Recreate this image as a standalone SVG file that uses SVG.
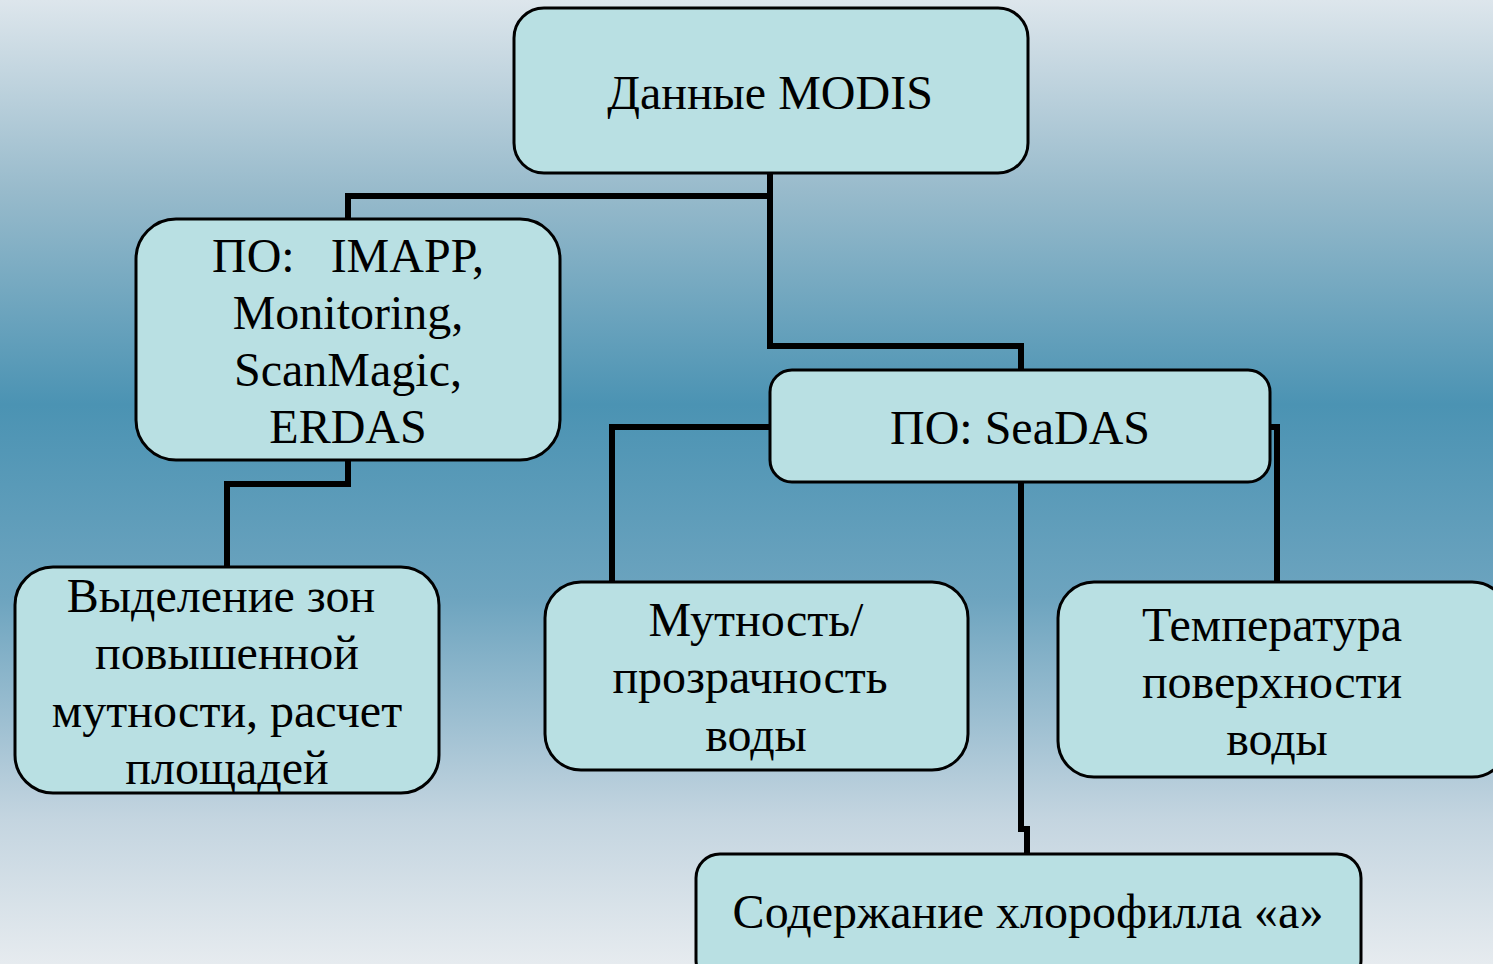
<svg xmlns="http://www.w3.org/2000/svg" width="1493" height="964" viewBox="0 0 1493 964">
<defs>
<linearGradient id="bg" x1="0" y1="0" x2="0" y2="1">
<stop offset="0" stop-color="#dde6ec"/>
<stop offset="0.2" stop-color="#97bacb"/>
<stop offset="0.42" stop-color="#4b93b3"/>
<stop offset="0.62" stop-color="#6da4bf"/>
<stop offset="0.85" stop-color="#c4d5e0"/>
<stop offset="1" stop-color="#e6ebef"/>
</linearGradient>
</defs>
<style>
.box{fill:#b9e0e3;stroke:#000;stroke-width:3}
.t{font-family:"Liberation Serif",serif;font-size:48px;fill:#000;text-anchor:middle}
.c{fill:none;stroke:#000;stroke-width:6}
</style>
<rect width="1493" height="964" fill="url(#bg)"/>
<g id="connectors">
<path class="c" d="M770 173 V196 H348 V219"/>
<path class="c" d="M770 196 V346 H1021 V370"/>
<path class="c" d="M348 460 V484 H227 V567"/>
<path class="c" d="M770 427 H612 V582"/>
<path class="c" d="M1270 427 H1277 V582"/>
<path class="c" d="M1021 482 V829 H1027 V854"/>
</g>
<g id="modis">
<rect class="box" x="514" y="8" width="514" height="165" rx="30"/>
<text class="t" x="770" y="109" font-size="51">Данные MODIS</text>
</g>
<g id="po1">
<rect class="box" x="136" y="219" width="424" height="241" rx="40"/>
<text class="t" x="348" y="272" xml:space="preserve">ПО:   IMAPP,</text>
<text class="t" x="348" y="329">Monitoring,</text>
<text class="t" x="348" y="386">ScanMagic,</text>
<text class="t" x="348" y="443">ERDAS</text>
</g>
<g id="seadas">
<rect class="box" x="770" y="370" width="500" height="112" rx="22"/>
<text class="t" x="1020" y="444">ПО: SeaDAS</text>
</g>
<g id="zones">
<rect class="box" x="15" y="567" width="424" height="226" rx="38"/>
<text class="t" x="221" y="612">Выделение зон</text>
<text class="t" x="227" y="669">повышенной</text>
<text class="t" x="227" y="727">мутности, расчет</text>
<text class="t" x="227" y="784">площадей</text>
</g>
<g id="turbidity">
<rect class="box" x="545" y="582" width="423" height="188" rx="36"/>
<text class="t" x="756" y="636">Мутность/</text>
<text class="t" x="750" y="693">прозрачность</text>
<text class="t" x="756" y="751">воды</text>
</g>
<g id="temperature">
<rect class="box" x="1058" y="582" width="450" height="195" rx="36"/>
<text class="t" x="1272" y="641">Температура</text>
<text class="t" x="1272" y="698">поверхности</text>
<text class="t" x="1277" y="755">воды</text>
</g>
<g id="chlorophyll">
<rect class="box" x="696" y="854" width="665" height="130" rx="24"/>
<text class="t" x="1028" y="928">Содержание хлорофилла «а»</text>
</g>
</svg>
